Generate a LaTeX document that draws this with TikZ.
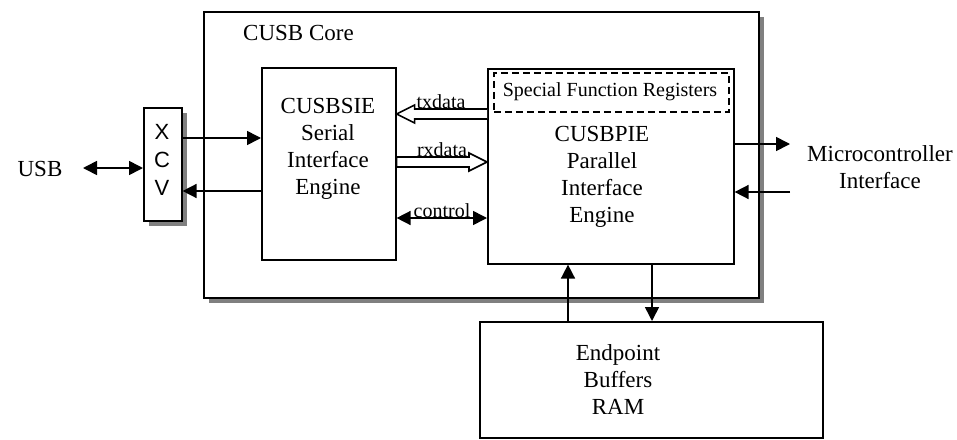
\documentclass[tikz,border=0pt]{standalone}
\usepackage{fontspec}
\setmainfont{Liberation Serif}
\newfontfamily\arialf{Liberation Sans}
\usetikzlibrary{arrows.meta,calc,shadows}
\begin{document}
\begin{tikzpicture}[x=1pt,y=-1pt,
  lw/.style={line width=1.6pt},
  blk/.style={draw,lw,fill=white,inner sep=0pt,anchor=north west},
  shd/.style={drop shadow={shadow xshift=5pt,shadow yshift=-5pt,fill=black!50,opacity=1}},
  txt/.style={font=\fontsize{23}{27}\selectfont,align=center,inner sep=0pt},
  lbl/.style={font=\fontsize{20}{24}\selectfont,inner sep=0pt,anchor=base},
  arr/.style={lw,-{Triangle[length=14pt,width=14pt]}},
  darr/.style={lw,{Triangle[length=14pt,width=14pt]}-{Triangle[length=14pt,width=14pt]}},
  hol/.style={lw,fill=white,line join=miter}]
\path[use as bounding box] (0,0) rectangle (957,439);
% boxes
\node[blk,shd,minimum width=555pt,minimum height=286pt] (core) at (203,11) {};
\node[txt,anchor=base west] (corelbl) at (243,40) {CUSB Core};
\node[blk,shd,minimum width=38pt,minimum height=113pt] (xcv) at (143,107) {};
\node[txt,font=\arialf\fontsize{22}{28}\selectfont] (xcvt) at (162,160) {X\\C\\V};
\node[blk,minimum width=134pt,minimum height=192pt] (sie) at (261,67) {};
\node[txt] (siet) at (328,149) {CUSBSIE\\Serial\\Interface\\Engine};
\node[blk,minimum width=246pt,minimum height=195pt] (pie) at (487,68) {};
\node[blk,dash pattern=on 7pt off 4pt,minimum width=235pt,minimum height=39pt] (sfr) at (493,72) {};
\node[lbl,anchor=center] (sfrt) at (610,92) {Special Function Registers};
\node[txt] (piet) at (602,177) {CUSBPIE\\Parallel\\Interface\\Engine};
\node[blk,minimum width=343pt,minimum height=116pt] (ram) at (479,321) {};
\node[txt] (ramt) at (618,380) {Endpoint\\Buffers\\RAM};
\node[txt] (usb) at (40,169) {USB};
\node[txt] (mcu) at (880,167) {Microcontroller\\Interface};
\coordinate (usbR) at (83,168);
\coordinate (mcuA) at (790,144);
\coordinate (mcuB) at (790,192);
% simple arrows
\draw[darr] (usbR) -- (xcv.west |- usbR);
\draw[arr] (xcv.east |- 0,138) -- (sie.west |- 0,138);
\draw[arr] (sie.west |- 0,191) -- (xcv.east |- 0,191);
\draw[arr] (pie.east |- mcuA) -- (mcuA);
\draw[arr] (mcuB) -- (pie.east |- mcuB);
\draw[arr] (ram.north -| 568,0) -- (pie.south -| 568,0);
\draw[arr] (pie.south -| 652,0) -- (ram.north -| 652,0);
\draw[darr] (sie.east |- 0,218) -- (pie.west |- 0,218);
% hollow arrows
\coordinate (txs) at (pie.west |- 0,114);
\coordinate (txe) at (sie.east |- 0,114);
\draw[hol] (txs) ++(0,-5) -- ($(txe)+(18,-5)$) -- ($(txe)+(18,-9)$) -- (txe) -- ($(txe)+(18,9)$) -- ($(txe)+(18,5)$) -- ($(txs)+(0,5)$);
\coordinate (rxs) at (sie.east |- 0,162);
\coordinate (rxe) at (pie.west |- 0,162);
\draw[hol] (rxs) ++(0,-5) -- ($(rxe)+(-18,-5)$) -- ($(rxe)+(-18,-9)$) -- (rxe) -- ($(rxe)+(-18,9)$) -- ($(rxe)+(-18,5)$) -- ($(rxs)+(0,5)$) -- cycle;
% labels
\node[lbl] (txl) at (441,108) {txdata};
\node[lbl] (rxl) at (442,156) {rxdata};
\node[lbl] (ctl) at (442,217) {control};
\end{tikzpicture}
\end{document}
